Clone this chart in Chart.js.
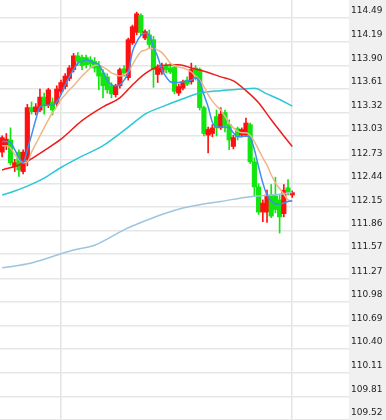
<!DOCTYPE html>
<html>
<head>
<meta charset="utf-8">
<script src="https://cdn.jsdelivr.net/npm/chart.js@4.4.1/dist/chart.umd.min.js"></script>
<style>
  html, body { margin: 0; padding: 0; background: #fff; }
</style>
</head>
<body>
<canvas id="kline" width="386" height="420"></canvas>
<script>
// candle data, one entry per bar
const opens = [112.83, 112.92, 112.98, 112.65, 112.83, 112.59, 112.74, 113.38, 113.33, 113.35,
  113.51, 113.41, 113.45, 113.43, 113.58, 113.64, 113.74, 113.85, 114.02, 114.00,
  114.00, 113.97, 113.95, 113.90, 113.81, 113.76, 113.65, 113.54, 113.65, 113.86,
  113.75, 114.18, 114.31, 114.52, 114.24, 114.28, 114.22, 113.79, 113.82, 113.90,
  113.87, 113.88, 113.56, 113.62, 113.72, 113.70, 113.87, 113.85, 113.38, 113.04,
  113.06, 113.27, 113.13, 113.32, 113.17, 112.90, 113.12, 113.04, 113.04, 113.17,
  112.71, 112.40, 112.09, 112.09, 112.30, 112.29, 112.24, 112.07, 112.39, 112.30];
const closes = [113.01, 112.99, 112.70, 112.70, 112.61, 112.83, 113.38, 113.33, 113.39, 113.51,
  113.40, 113.60, 113.35, 113.61, 113.69, 113.77, 113.87, 114.02, 113.95, 113.90,
  113.91, 113.92, 113.87, 113.77, 113.65, 113.60, 113.55, 113.65, 113.85, 113.81,
  114.22, 114.38, 114.54, 114.31, 114.32, 114.16, 113.85, 113.87, 113.88, 113.85,
  113.82, 113.58, 113.64, 113.70, 113.67, 113.85, 113.77, 113.38, 113.06, 113.11,
  113.13, 113.13, 113.30, 113.16, 112.98, 113.01, 113.02, 113.11, 113.19, 112.71,
  112.40, 112.09, 112.20, 112.30, 112.04, 112.12, 112.03, 112.36, 112.34, 112.33];
const highs = [113.03, 113.06, 113.13, 112.74, 112.86, 112.86, 113.42, 113.45, 113.43, 113.61,
  113.56, 113.62, 113.50, 113.65, 113.72, 113.80, 113.90, 114.05, 114.06, 114.03,
  114.03, 114.01, 114.00, 113.95, 113.85, 113.80, 113.69, 113.67, 113.87, 113.90,
  114.24, 114.40, 114.56, 114.54, 114.34, 114.34, 114.26, 113.91, 113.93, 113.93,
  113.93, 113.91, 113.67, 113.72, 113.76, 113.93, 113.90, 113.87, 113.40, 113.14,
  113.17, 113.35, 113.38, 113.35, 113.23, 113.04, 113.14, 113.13, 113.25, 113.19,
  112.76, 112.44, 112.24, 112.36, 112.43, 112.52, 112.30, 112.43, 112.49, 112.35];
const lows = [112.77, 112.86, 112.67, 112.59, 112.53, 112.56, 112.66, 113.30, 113.29, 113.33,
  113.30, 113.38, 113.29, 113.40, 113.54, 113.61, 113.71, 113.82, 113.90, 113.85,
  113.87, 113.87, 113.82, 113.60, 113.50, 113.56, 113.50, 113.51, 113.62, 113.77,
  113.72, 114.16, 114.28, 114.27, 114.22, 114.12, 113.63, 113.69, 113.79, 113.81,
  113.80, 113.55, 113.53, 113.60, 113.65, 113.67, 113.72, 113.35, 113.03, 112.82,
  113.02, 113.03, 113.11, 113.08, 112.86, 112.87, 112.98, 113.02, 113.02, 112.69,
  112.28, 112.06, 111.97, 111.96, 112.02, 112.08, 111.83, 112.03, 112.30, 112.27];

// moving averages
const ma5 = [112.96, 112.96, 112.95, 112.86, 112.76, 112.70, 112.86, 113.04, 113.23, 113.39,
  113.41, 113.41, 113.41, 113.45, 113.54, 113.66, 113.76, 113.85, 113.93, 113.95,
  113.97, 113.96, 113.93, 113.91, 113.82, 113.72, 113.66, 113.65, 113.66, 113.72,
  113.81, 114.07, 114.19, 114.27, 114.30, 114.28, 114.13, 114.01, 113.85, 113.76,
  113.70, 113.69, 113.69, 113.70, 113.71, 113.72, 113.75, 113.70, 113.54, 113.39,
  113.20, 113.14, 113.14, 113.14, 113.13, 113.07, 113.02, 113.02, 113.03, 113.01,
  112.86, 112.65, 112.45, 112.30, 112.23, 112.19, 112.19, 112.20, 112.22, 112.23];
const ma10 = [112.91, 112.91, 112.88, 112.80, 112.74, 112.70, 112.71, 112.83, 112.93, 113.03,
  113.13, 113.23, 113.32, 113.39, 113.48, 113.54, 113.60, 113.65, 113.71, 113.77,
  113.82, 113.87, 113.90, 113.91, 113.88, 113.85, 113.81, 113.79, 113.77, 113.79,
  113.82, 113.91, 114.00, 114.07, 114.09, 114.11, 114.11, 114.09, 114.06, 114.00,
  113.93, 113.90, 113.88, 113.87, 113.85, 113.82, 113.77, 113.72, 113.64, 113.54,
  113.46, 113.40, 113.35, 113.27, 113.19, 113.13, 113.09, 113.07, 113.07, 113.04,
  112.96, 112.86, 112.76, 112.67, 112.55, 112.45, 112.38, 112.31, 112.24, 112.22];
// [bar index, value]
const ma20 = [[0, 112.61], [5, 112.69], [10, 112.85], [14, 112.99], [19, 113.22], [24, 113.39],
  [28, 113.50], [31, 113.66], [34, 113.80], [38, 113.90], [42, 113.91], [45, 113.87],
  [48, 113.83], [52, 113.76], [55, 113.71], [58, 113.59], [61, 113.44], [64, 113.23],
  [67, 113.03], [69, 112.90]];
const ma60 = [[0, 112.30], [3, 112.35], [6, 112.41], [10, 112.51], [14, 112.64], [19, 112.78],
  [24, 112.91], [28, 113.06], [31, 113.18], [34, 113.30], [38, 113.39], [43, 113.49],
  [47, 113.56], [52, 113.59], [57, 113.61], [60, 113.62], [63, 113.55], [66, 113.48],
  [69, 113.40]];
const ma120 = [[0, 111.40], [7, 111.46], [12, 111.54], [17, 111.62], [22, 111.68], [29, 111.87],
  [33, 111.96], [38, 112.06], [43, 112.14], [47, 112.18], [52, 112.22], [59, 112.28],
  [64, 112.30], [69, 112.33]];

const priceTicks = [109.52, 109.81, 110.11, 110.40, 110.69, 110.98, 111.27, 111.57, 111.86,
  112.15, 112.44, 112.73, 113.03, 113.32, 113.61, 113.90, 114.19, 114.49];
const slotCount = 83;      // bar slots across the plot, the rest stay empty
const dayBreaks = [14, 69]; // bars where the session lines fall

const slots = Array.from({ length: slotCount }, (_, i) => String(i));
const upColor = "#ff1111";
const downColor = "#11e611";
const candleColors = closes.map((c, i) => (c >= opens[i] ? upColor : downColor));
const toPoints = (list) => list.map(([i, v]) => ({ x: slots[i], y: v }));

// grey strip behind the price labels
const axisPanel = {
  id: "axisPanel",
  beforeDraw(chart) {
    const { ctx, chartArea, width, height } = chart;
    ctx.save();
    ctx.fillStyle = "#f0f0f0";
    ctx.fillRect(chartArea.right, 0, width - chartArea.right, height);
    ctx.restore();
  },
};

const lineStyle = (color, width, order) => ({
  type: "line",
  borderColor: color,
  borderWidth: width,
  pointRadius: 0,
  fill: false,
  cubicInterpolationMode: "monotone",
  order: order,
});

new Chart(document.getElementById("kline"), {
  data: {
    labels: slots,
    datasets: [
      { ...lineStyle("#3d8ef0", 1.5, 0), data: ma5 },
      { ...lineStyle("#efb68a", 1.5, 1), data: ma10 },
      { ...lineStyle("#f01c1c", 1.5, 2), data: toPoints(ma20) },
      { ...lineStyle("#2cc8d4", 1.5, 3), data: toPoints(ma60) },
      { ...lineStyle("#9cc6e0", 1.5, 4), data: toPoints(ma120) },
      {
        type: "bar",
        data: opens.map((o, i) => [o, closes[i]]),
        backgroundColor: candleColors,
        barThickness: 4.5,
        grouped: false,
        order: 5,
      },
      {
        type: "bar",
        data: lows.map((l, i) => [l, highs[i]]),
        backgroundColor: candleColors,
        barThickness: 1,
        grouped: false,
        order: 6,
      },
    ],
  },
  options: {
    responsive: false,
    animation: false,
    devicePixelRatio: 1,
    layout: { padding: 0 },
    plugins: { legend: { display: false }, tooltip: { enabled: false } },
    scales: {
      x: {
        type: "category",
        offset: true,
        grid: {
          offset: false,
          drawTicks: false,
          lineWidth: 1.5,
          color: (c) => (dayBreaks.includes(c.index) ? "#e4e4e4" : "rgba(0,0,0,0)"),
        },
        border: { display: false },
        ticks: { display: false, autoSkip: false },
        afterFit: (s) => { s.height = 0; },
      },
      y: {
        position: "right",
        min: 109.52,
        max: 114.71,
        afterBuildTicks: (s) => { s.ticks = priceTicks.map((v) => ({ value: v })); },
        afterFit: (s) => {
          s.width = 37;
          s.paddingTop = 0;
          s.paddingBottom = 0;
        },
        grid: { color: "#e6e6e6", lineWidth: 1.5, drawTicks: false },
        border: { display: false },
        ticks: {
          padding: 2,
          labelOffset: -7,
          color: "#222",
          font: { family: "DejaVu Sans", size: 9 },
          callback: (v) => v.toFixed(2),
        },
      },
    },
  },
  plugins: [axisPanel],
});
</script>
</body>
</html>
